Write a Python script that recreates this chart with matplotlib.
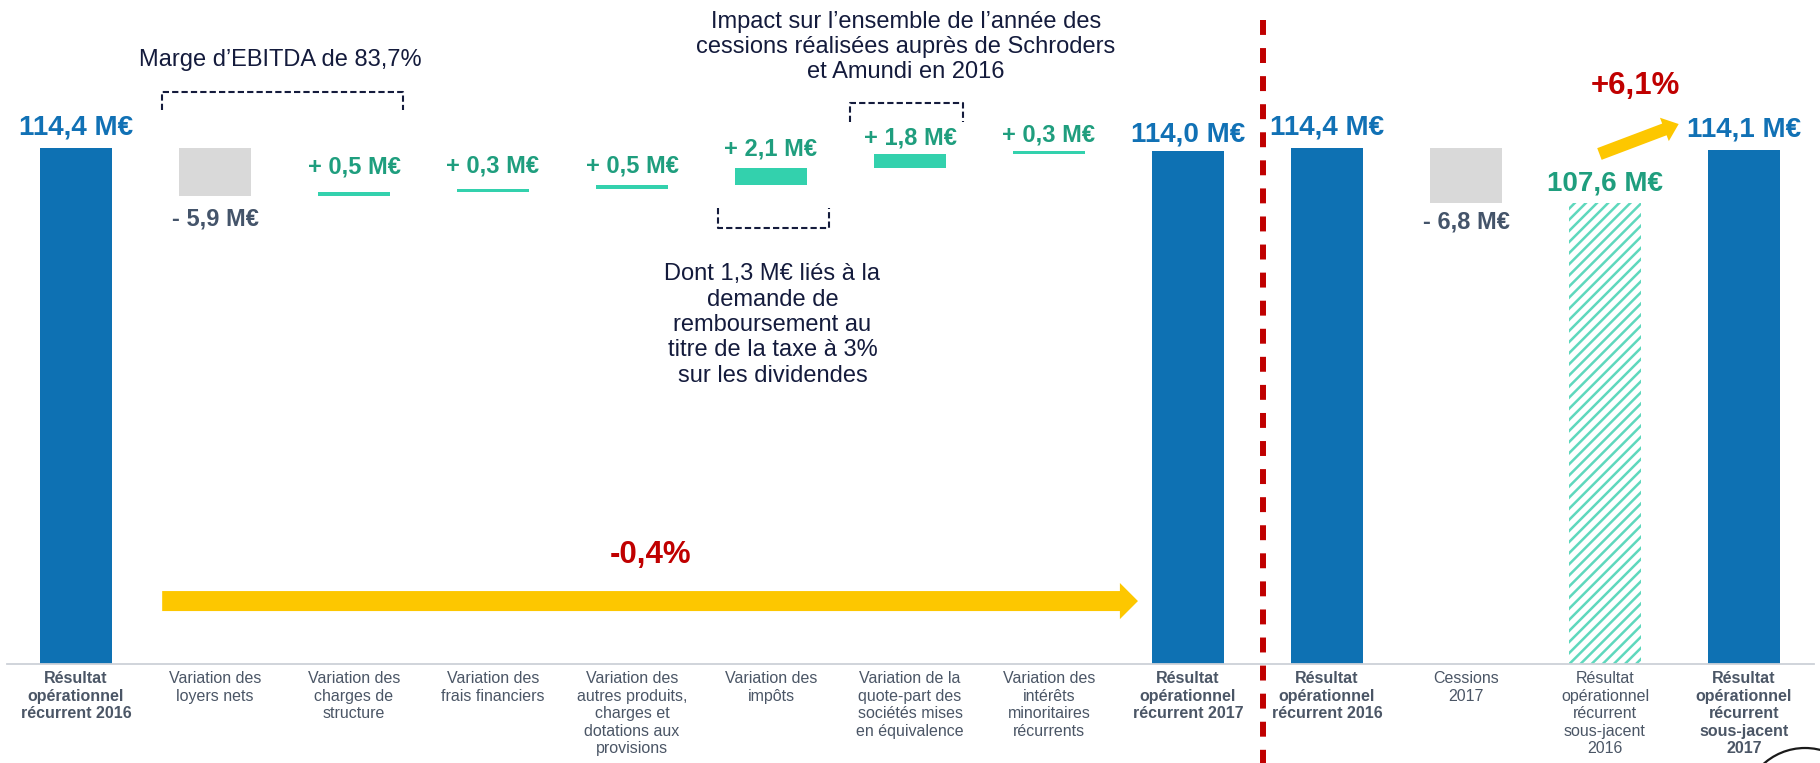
import matplotlib
matplotlib.use("Agg")
import matplotlib.pyplot as plt
from matplotlib.patches import FancyArrowPatch, Circle
import matplotlib.transforms as mtransforms

plt.rcParams['font.family'] = ['Liberation Sans', 'DejaVu Sans']
plt.rcParams['hatch.linewidth'] = 1.8

# ---------------- data ----------------
categories = [
    "Résultat\nopérationnel\nrécurrent 2016",
    "Variation des\nloyers nets",
    "Variation des\ncharges de\nstructure",
    "Variation des\nfrais financiers",
    "Variation des\nautres produits,\ncharges et\ndotations aux\nprovisions",
    "Variation des\nimpôts",
    "Variation de la\nquote-part des\nsociétés mises\nen équivalence",
    "Variation des\nintérêts\nminoritaires\nrécurrents",
    "Résultat\nopérationnel\nrécurrent 2017",
    "Résultat\nopérationnel\nrécurrent 2016",
    "Cessions\n2017",
    "Résultat\nopérationnel\nrécurrent\nsous-jacent\n2016",
    "Résultat\nopérationnel\nrécurrent\nsous-jacent\n2017",
]
bold_categories = [0, 8, 9, 12]

start_2016 = 114.4
variations = [-5.9, 0.5, 0.3, 0.5, 2.1, 1.8, 0.3]
end_2017 = 114.0

start_2016_b = 114.4
cessions_2017 = -6.8
underlying_2016 = 107.6
underlying_2017 = 114.1

pct_total = "-0,4%"
pct_underlying = "+6,1%"

note_ebitda = "Marge d’EBITDA de 83,7%"
note_impact = "Impact sur l’ensemble de l’année des\ncessions réalisées auprès de Schroders\net Amundi en 2016"
note_taxe = "Dont 1,3 M€ liés à la\ndemande de\nremboursement au\ntitre de la taxe à 3%\nsur les dividendes"

# ---------------- style ----------------
BLUE = "#0E71B3"
BLUE_TXT = "#1171B5"
TURQ = "#33D1AD"
HATCH = "#5FD8BD"
GREEN_TXT = "#1F9E7E"
GREY = "#D9D9D9"
GREY_TXT = "#44546A"
CAT_TXT = "#4B5666"
NAVY = "#141B3C"
RED = "#C00000"
YELLOW = "#FDC700"
# pixel offsets of the variation labels (index 1..7)
var_offsets = [-23, 25, 23, 19, 19, 16, 16]

W, H = 1820, 763
fig = plt.figure(figsize=(W / 100, H / 100), dpi=100)
ax = fig.add_axes([6.5 / W, 99 / H, 1807 / W, 664 / H])
ax.set_xlim(-0.5, 12.5)
base = 50.7
ax.set_ylim(base, 132.67)
for s in ["top", "right", "left"]:
    ax.spines[s].set_visible(False)
ax.spines["bottom"].set_color("#CDD1D8")
ax.spines["bottom"].set_linewidth(1.3)
ax.set_xticks([])
ax.set_yticks([])

bw = 0.525


def fmt(v, signed=False):
    s = f"{abs(v):.1f}".replace(".", ",")
    if signed:
        return ("+ " if v >= 0 else "- ") + s + " M€"
    return s + " M€"


def label(x, y, txt, color, off, size=17):
    ax.annotate(txt, (x, y), xytext=(0, off), textcoords="offset pixels",
                ha="center", va="center", fontsize=size, fontweight="bold",
                color=color)


# left waterfall
ax.bar(0, start_2016 - base, bottom=base, width=bw, color=BLUE)
label(0, start_2016, fmt(start_2016), BLUE_TXT, 20, 20)
level = start_2016
for i, d in enumerate(variations, start=1):
    lo, hi = min(level, level + d), max(level, level + d)
    if d < 0:
        ax.bar(i, hi - lo, bottom=lo, width=bw, color=GREY)
        label(i, lo, fmt(d, True), GREY_TXT, var_offsets[i - 1])
    else:
        ax.bar(i, hi - lo, bottom=lo, width=bw, color=TURQ)
        label(i, hi, fmt(d, True), GREEN_TXT, var_offsets[i - 1])
    level += d
ax.bar(8, end_2017 - base, bottom=base, width=bw, color=BLUE)
label(8, end_2017, fmt(end_2017), BLUE_TXT, 17, 20)

# right part
ax.bar(9, start_2016_b - base, bottom=base, width=bw, color=BLUE)
label(9, start_2016_b, fmt(start_2016_b), BLUE_TXT, 20, 20)
lo = start_2016_b + cessions_2017
ax.bar(10, -cessions_2017, bottom=lo, width=bw, color=GREY)
label(10, lo, fmt(cessions_2017, True), GREY_TXT, -19)
ax.bar(11, underlying_2016 - base, bottom=base, width=bw, color="white",
       edgecolor=HATCH, hatch="///", linewidth=0)
label(11, underlying_2016, fmt(underlying_2016), GREEN_TXT, 20, 20)
ax.bar(12, underlying_2017 - base, bottom=base, width=bw, color=BLUE)
label(12, underlying_2017, fmt(underlying_2017), BLUE_TXT, 21, 20)

# category labels
trans = mtransforms.blended_transform_factory(ax.transData, ax.transAxes)
for i, c in enumerate(categories):
    ax.text(i, -0.011, c, transform=trans, ha="center", va="top",
            fontsize=11.5, color=CAT_TXT, linespacing=1.2,
            fontweight="bold" if i in bold_categories else "normal")

# red separator
ax.plot([8.54, 8.54], [0.97, -0.16], transform=trans, clip_on=False,
        color=RED, lw=4.3, linestyle=(0, (2.5, 2.2)), solid_capstyle="butt",
        dash_capstyle="butt")

# arrows
big = FancyArrowPatch((0.62, 58.47), (7.64, 58.47),
                      arrowstyle="simple,head_width=26,head_length=13,tail_width=14.4",
                      mutation_scale=1, color=YELLOW, shrinkA=0, shrinkB=0, lw=0)
ax.add_patch(big)
small = FancyArrowPatch((10.96, 113.66), (11.53, 117.36),
                        arrowstyle="simple,head_width=18,head_length=11,tail_width=9",
                        mutation_scale=1, color=YELLOW, shrinkA=0, shrinkB=0, lw=0)
ax.add_patch(small)
ax.text(4.13, 64.15, pct_total, ha="center", va="center", fontsize=22.5,
        fontweight="bold", color=RED)
ax.text(11.22, 122.05, pct_underlying, ha="center", va="center", fontsize=22.5,
        fontweight="bold", color=RED)

# notes and dashed brackets
ax.text(1.47, 125.3, note_ebitda, ha="center", va="center", fontsize=17, color=NAVY)
ax.text(5.97, 126.87, note_impact, ha="center", va="center", fontsize=17,
        color=NAVY, linespacing=1.2)
ax.text(5.01, 92.55, note_taxe, ha="center", va="center", fontsize=17,
        color=NAVY, linespacing=1.2)

dash = dict(color=NAVY, lw=1.5, linestyle=(0, (3, 1.5)), clip_on=False)
ax.plot([0.62, 0.62, 2.35, 2.35], [119.1, 121.3, 121.3, 119.1], **dash)
ax.plot([5.57, 5.57, 6.38, 6.38], [117.6, 119.96, 119.96, 117.6], **dash)
ax.plot([4.62, 4.62, 5.42, 5.42], [107.0, 104.5, 104.5, 107.0], **dash)

# page-number circle (partially visible, in inches from bottom-left)
circ = Circle((18.05, -0.47), 0.62, transform=fig.dpi_scale_trans,
              fill=False, edgecolor="#1a1a1a", lw=1.6, clip_on=False)
fig.add_artist(circ)

fig.savefig("out.png", dpi=100)
